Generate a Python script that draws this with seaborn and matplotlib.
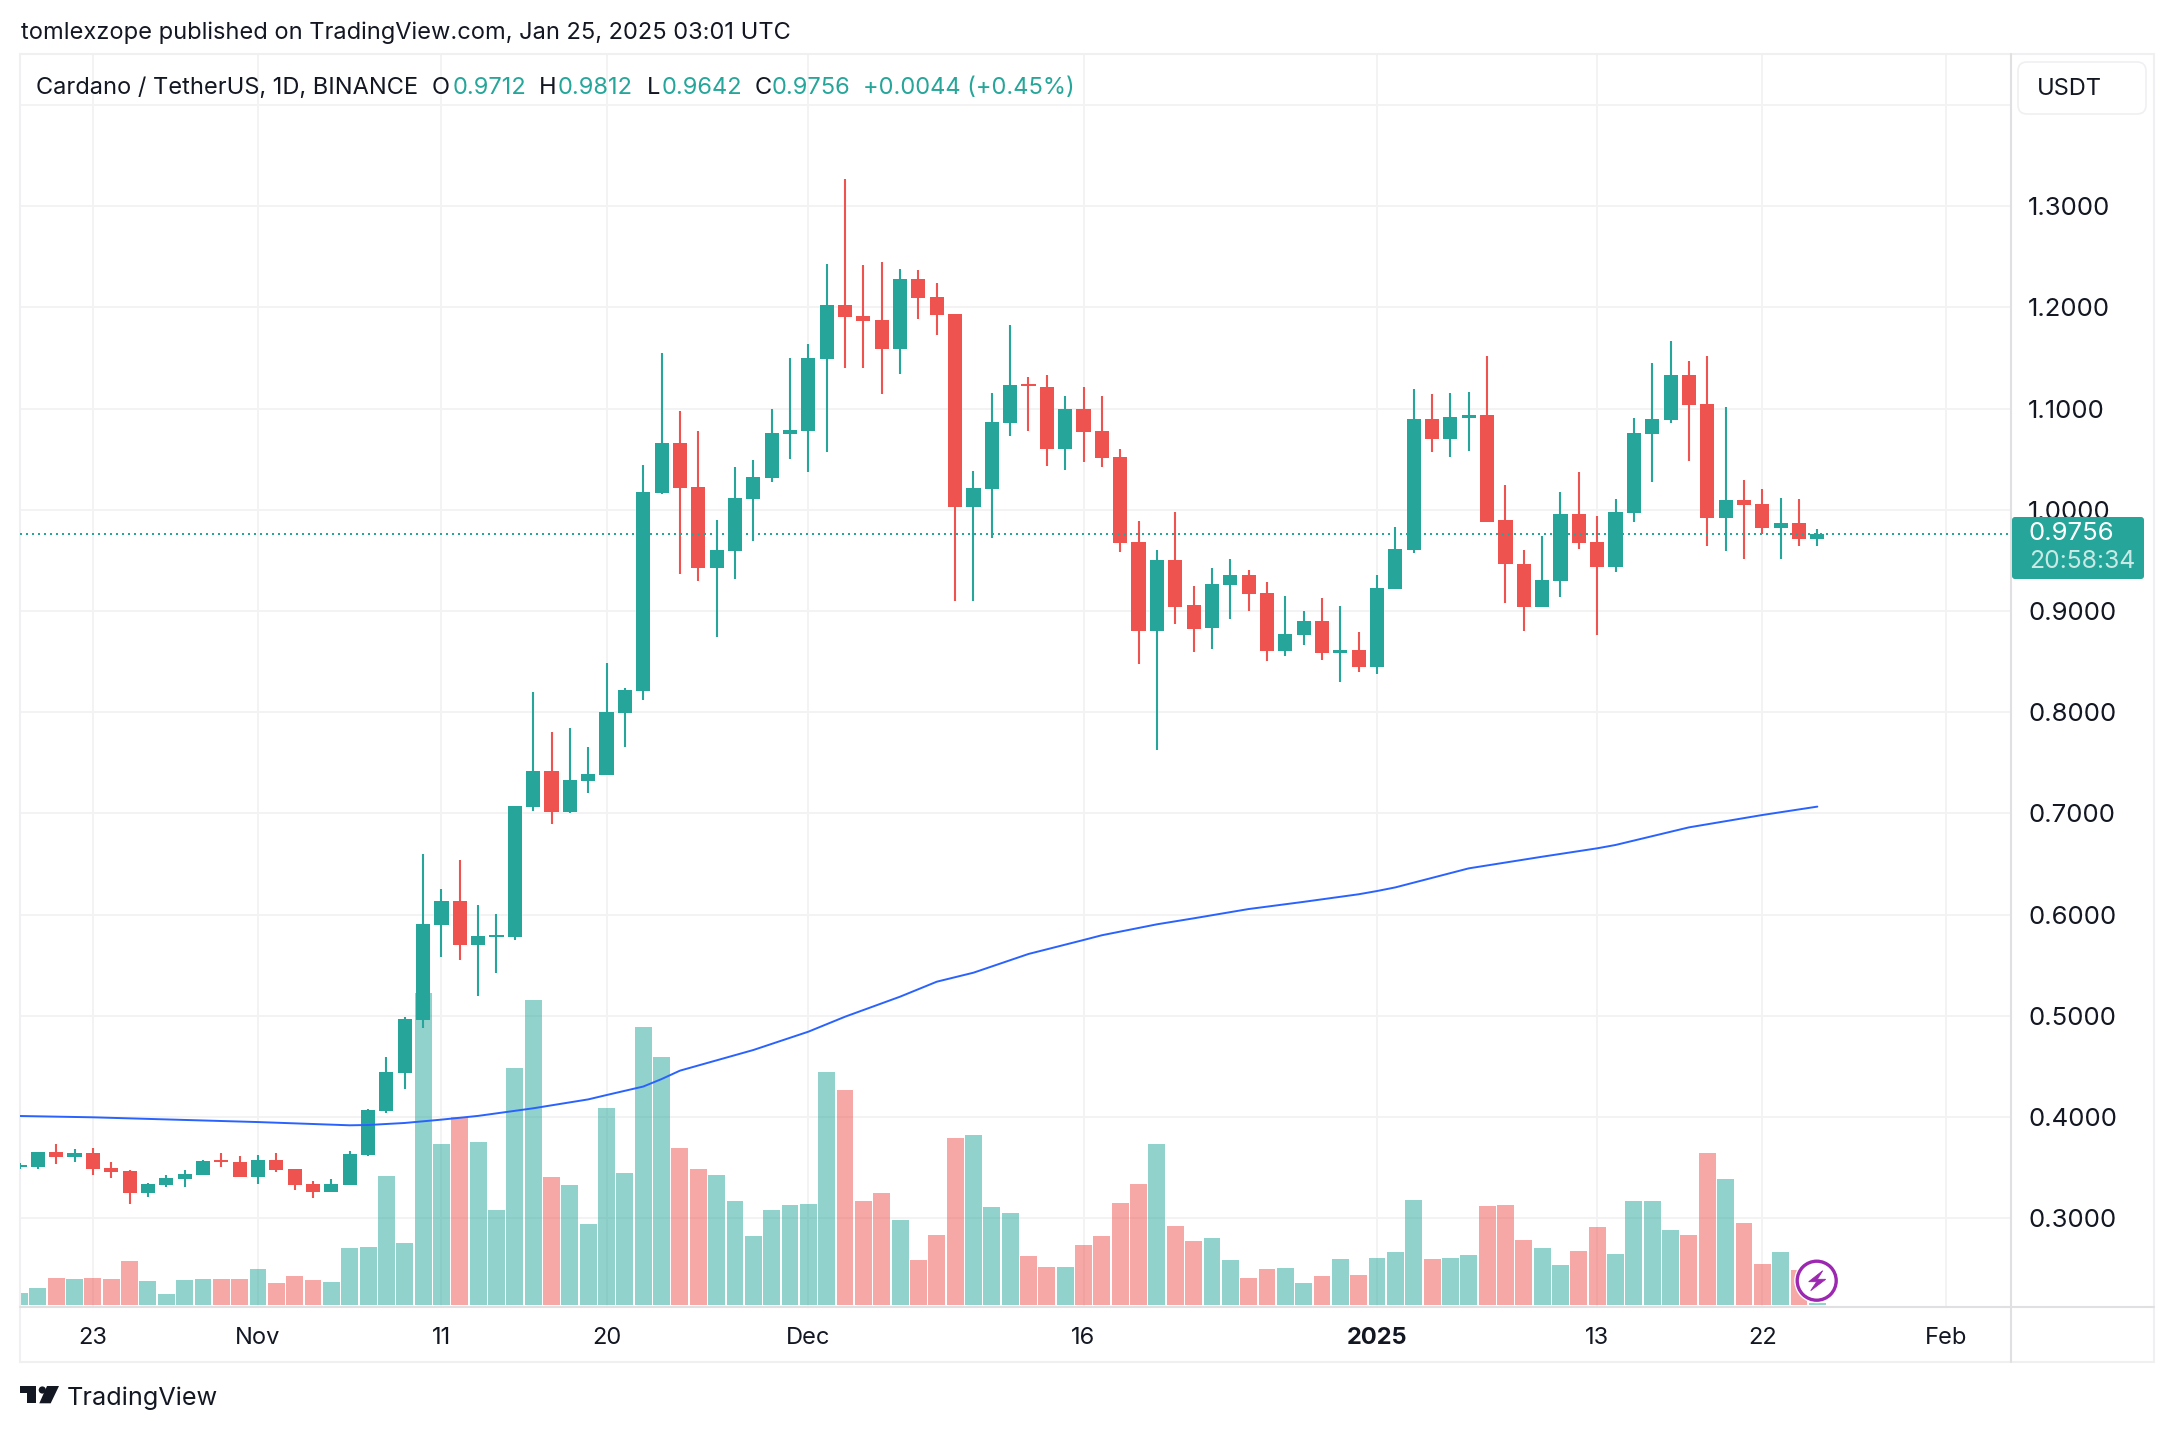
import pandas as pd
import matplotlib
matplotlib.use("Agg")
import matplotlib.pyplot as plt
import matplotlib.dates as mdates
from matplotlib.lines import Line2D
from matplotlib.patches import Circle, FancyBboxPatch, Polygon
from matplotlib.transforms import Affine2D
import seaborn as sns

# ADA/USDT daily candles, 19 Oct 2024 -> 25 Jan 2025
start_date = "2024-10-19"
end_date = "2025-01-25"

opens = [
    .3508, .3508, .3653, .3603, .3643, .3495, .3465, .3247, .3327, .3386, .3425, .3574, .3554,
    .3406, .3574, .3485, .3336, .3257, .3327, .3623, .4058, .4437, .4958, .5897, .6134, .5699, .5778, .5778,
    .7063, .7418, .7013, .7320, .7379, .7991, .8209, 1.0164, 1.0659, 1.0224, .9423, .9591, 1.0105, 1.0313, 1.0747,
    1.0777, 1.1488, 1.2022, 1.1914, 1.1874, 1.1587, 1.2279, 1.2101, 1.1933, 1.0026, 1.0204, 1.0856, 1.1242, 1.1212, 1.0599,
    1.0995, 1.0778, 1.0521, .9681, .8802, .9503, .9058, .8831, .9256, .9355, .9177, .8604, .8762, .8900, .8584, .8614,
    .8446, .9217, .9602, 1.0896, 1.0699, 1.0906, 1.0936, .9898, .9464, .9039, .9296, .9958, .9681, .9434, .9968,
    1.0749, 1.0887, 1.1332, 1.1045, .9918, 1.0096, 1.0057, .9820, .9869, .9712,
]
closes = [
    .3524, .3653, .3603, .3643, .3485, .3455, .3247, .3336, .3396, .3435, .3564, .3554, .3406,
    .3574, .3475, .3327, .3257, .3336, .3633, .4068, .4444, .4967, .5907, .6134, .5699, .5788, .5798,
    .7072, .7418, .7013, .7329, .7389, .8001, .8219, 1.0174, 1.0659, 1.0214, .9423, .9601, 1.0115, 1.0323, 1.0757, 1.0787,
    1.1498, 1.2022, 1.1904, 1.1864, 1.1587, 1.2279, 1.2091, 1.1923, 1.0026, 1.0214, 1.0866, 1.1232, 1.1222, 1.0599,
    1.0995, 1.0767, 1.0511, .9671, .8802, .9503, .9039, .8821, .9266, .9355, .9167, .8604, .8772, .8900, .8584, .8614, .8446,
    .9226, .9612, 1.0896, 1.0699, 1.0916, 1.0936, .9879, .9464, .9039, .9305, .9958, .9671, .9434, .9978,
    1.0758, 1.0897, 1.1332, 1.1035, .9918, 1.0096, 1.0047, .9820, .9869, .9712, .9756,
]
highs = [
    .3540, .3653, .3732, .3682, .3692, .3554, .3475, .3346, .3425, .3475, .3574, .3643, .3613,
    .3623, .3643, .3485, .3366, .3386, .3663, .4075, .4592, .4987, .6598, .6252, .6539, .6094, .6005,
    .7072, .8199, .7804, .7843, .7656, .8486, .8239, 1.0441, 1.1548, 1.0975, 1.0777, .9898, 1.0421, 1.0491, 1.0995, 1.1498,
    1.1637, 1.2427, 1.3267, 1.2417, 1.2447, 1.2378, 1.2368, 1.2240, 1.1933, 1.0382, 1.1153, 1.1825, 1.1311, 1.1331, 1.1123,
    1.1212, 1.1124, 1.0600, .9888, .9602, .9977, .9246, .9424, .9513, .9404, .9286, .9147, .8999, .9128, .9049, .8792,
    .9355, .9829, 1.1193, 1.1143, 1.1153, 1.1163, 1.1519, 1.0244, .9602, .9740, 1.0175, 1.0373, .9938, 1.0106,
    1.0907, 1.1450, 1.1667, 1.1470, 1.1519, 1.1015, 1.0294, 1.0205, 1.0116, 1.0106, .9812,
]
lows = [
    .3490, .3485, .3534, .3554, .3425, .3396, .3139, .3208, .3307, .3307, .3425, .3504, .3406,
    .3336, .3455, .3277, .3198, .3257, .3327, .3613, .4042, .4276, .4879, .5580, .5551, .5195, .5422,
    .5748, .7023, .6895, .7003, .7201, .7379, .7656, .8120, 1.0155, .9364, .9295, .8742, .9315, .9690, 1.0273, 1.0500,
    1.0372, 1.0570, 1.1400, 1.1400, 1.1143, 1.1340, 1.1884, 1.1726, .9097, .9097, .9720, 1.0728, 1.0777, 1.0431, 1.0392,
    1.0471, 1.0422, .9582, .8475, .7626, .8871, .8594, .8624, .8920, .8999, .8505, .8555, .8663, .8515, .8298, .8396,
    .8377, .9217, .9572, 1.0570, 1.0521, 1.0580, .9879, .9078, .8801, .9039, .9138, .9612, .8762, .9385,
    .9879, 1.0274, 1.0857, 1.0482, .9642, .9592, .9513, .9760, .9513, .9642, .9642,
]
# no volume axis in the picture, so these are just relative heights
volumes = [
    35, 50, 80, 77, 80, 77, 131, 71, 32, 74, 77, 77, 77,
    107, 65, 86, 74, 68, 170, 173, 386, 185, 935, 482, 562, 488, 284, 711, 915, 383, 359, 242, 591, 395,
    833, 743, 470, 407, 389, 311, 206, 284, 299,
    302, 699, 645, 311, 335, 254, 134, 209, 500, 509, 293, 275, 146, 113, 113, 179, 206, 305, 362, 482,
    236, 191, 200, 134, 80, 107, 110, 65, 86, 137, 89,
    140, 158, 314, 137, 140, 149, 296, 299, 194, 170, 119, 161, 233, 152, 311, 311, 224, 209, 455, 377, 245, 122, 158, 104, 6,
]

# blue moving average, read at these dates
ma_dates = [
    "2024-10-19", "2024-10-23", "2024-11-01", "2024-11-06", "2024-11-07", "2024-11-09", "2024-11-11",
    "2024-11-13", "2024-11-15", "2024-11-16", "2024-11-19", "2024-11-20", "2024-11-22", "2024-11-23",
    "2024-11-24", "2024-11-28", "2024-12-01", "2024-12-03", "2024-12-06", "2024-12-08", "2024-12-10",
    "2024-12-13", "2024-12-16", "2024-12-17", "2024-12-20", "2024-12-22", "2024-12-25", "2024-12-28",
    "2024-12-31", "2025-01-01", "2025-01-02", "2025-01-06", "2025-01-10", "2025-01-13", "2025-01-14",
    "2025-01-18", "2025-01-22", "2025-01-25",
]
ma_values = [
    .4009, .3996, .3949, .3917, .3920, .3940, .3973,
    .4010, .4060, .4085, .4173, .4216, .4300, .4374,
    .4457, .4661, .4842, .4990, .5188, .5336, .5425,
    .5610, .5748, .5795, .5903, .5962, .6054, .6125,
    .6200, .6232, .6268, .6456, .6571, .6654, .6687,
    .6861, .6983, .7066,
]

tick_prices = [0.3, 0.4, 0.5, 0.6, 0.7, 0.8, 0.9, 1.0, 1.1, 1.2, 1.3, 1.4]
price_labels = ["0.3000", "0.4000", "0.5000", "0.6000", "0.7000", "0.8000", "0.9000", "1.0000", "1.1000", "1.2000", "1.3000", ""]
tick_dates = ["2024-10-23", "2024-11-01", "2024-11-11", "2024-11-20", "2024-12-01",
              "2024-12-16", "2025-01-01", "2025-01-13", "2025-01-22", "2025-02-01"]
date_labels = ["23", "Nov", "11", "20", "Dec", "16", "2025", "13", "22", "Feb"]
last_price = 0.9756

UP = "#26A69A"
DOWN = "#EF5350"
INK = "#131722"
FRAME = "#F0F0F3"
AXIS = "#E0E0E3"
GRID = "#F3F3F3"

sns.set_theme(style="white")
plt.rcParams["font.family"] = ["Inter", "DejaVu Sans"]

W, H = 2174, 1432
fig = plt.figure(figsize=(W / 100, H / 100), dpi=100, facecolor="white")
# y goes down like in the screenshot, for the chrome around the chart
px = Affine2D().scale(1, -1).translate(0, H)

L, R, T, B = 20, 2011, 54, 1307
ax = fig.add_axes([L / W, 1 - B / H, (R - L) / W, (B - T) / H])
vol_ax = ax.twinx()
price_ax = ax.twinx()
ax.set_zorder(0)
vol_ax.set_zorder(1)
price_ax.set_zorder(2)

df = pd.DataFrame({
    "date": pd.date_range(start_date, end_date),
    "open": opens, "high": highs, "low": lows, "close": closes, "volume": volumes,
})
df["x"] = mdates.date2num(df["date"])
df["side"] = ["up" if c >= o else "down" for o, c in zip(df["open"], df["close"])]
df["body"] = (df["close"] - df["open"]).abs()
df["bottom"] = df[["open", "close"]].min(axis=1)
colors = {"up": UP, "down": DOWN}

# volume
sns.barplot(data=df, x="x", y="volume", hue="side", palette=colors, hue_order=["up", "down"],
            native_scale=True, dodge=False, width=0.92, saturation=1, alpha=0.5,
            linewidth=0, errorbar=None, legend=False, ax=vol_ax)

# candles
for side, sub in df.groupby("side"):
    price_ax.vlines(sub["x"], sub["low"], sub["high"], color=colors[side], lw=1.5)
    sns.barplot(data=sub, x="x", y="body", bottom=sub["bottom"].values, color=colors[side],
                native_scale=True, width=0.77, saturation=1, linewidth=0, errorbar=None, ax=price_ax)

sns.lineplot(x=mdates.date2num(pd.to_datetime(ma_dates)), y=ma_values, color="#2962FF", lw=1.4,
             estimator=None, ax=price_ax)
price_ax.axhline(last_price, color=UP, lw=1.44, ls=(0, (1, 2)))

nov1 = mdates.date2num(pd.Timestamp("2024-11-01"))
per_day = 18.345
ax.set_xlim(nov1 + (L - 258) / per_day, nov1 + (R - 258) / per_day)
price_lim = (1 - (B - 509.7) / 1012, 1 - (T - 509.7) / 1012)
ax.set_ylim(price_lim)
price_ax.set_ylim(price_lim)
vol_ax.set_ylim(-6.9, (1304.7 - T) * 3)

for a in (ax, vol_ax, price_ax):
    a.set_xlabel("")
    a.set_ylabel("")
    for s in a.spines.values():
        s.set_visible(False)
vol_ax.set_yticks([])
price_ax.set_yticks([])

ax.set_xticks(mdates.date2num(pd.to_datetime(tick_dates)))
ax.set_xticklabels(date_labels)
ax.yaxis.tick_right()
ax.set_yticks(tick_prices)
ax.set_yticklabels(price_labels)
ax.tick_params(axis="x", length=0, pad=14.3, labelsize=17, labelcolor=INK)
ax.tick_params(axis="y", length=0, pad=12.3, labelsize=18.5, labelcolor=INK)
ax.get_xticklabels()[date_labels.index("2025")].set_fontweight("bold")
ax.grid(True, color=GRID, lw=1.44)
ax.set_axisbelow(True)

# frame around the chart
for xs, ys, col in [
    ((L, 2154), (T, T), FRAME), ((L, 2154), (1362, 1362), FRAME),
    ((L, L), (T, 1362), FRAME), ((2154, 2154), (T, 1362), FRAME),
    ((R, R), (T, 1362), AXIS), ((L, 2154), (B, B), AXIS),
]:
    fig.add_artist(Line2D(xs, ys, color=col, lw=1.5, transform=px))

# currency button
fig.add_artist(FancyBboxPatch((2018, 62), 128, 52, boxstyle="round,pad=0,rounding_size=9",
                              fc="white", ec=FRAME, lw=1.2, transform=px))
fig.text(2037, 89, "USDT", color=INK, fontsize=17, va="center", ha="left", transform=px)

# last price tag
fig.add_artist(FancyBboxPatch((2012, 517), 132, 62, boxstyle="round,pad=0,rounding_size=3",
                              fc=UP, ec="none", transform=px, zorder=5))
fig.text(2029, 534, "0.9756", color="white", fontsize=18.5, va="center", ha="left", transform=px, zorder=6)
fig.text(2029, 562, "20:58:34", color="#C9E9E6", fontsize=17.8, va="center", ha="left", transform=px, zorder=6)

# header texts
fig.text(21, 33, "tomlexzope published on TradingView.com, Jan 25, 2025 03:01 UTC", color=INK,
         fontsize=17, va="center", ha="left", transform=px)
legend_row = [
    (36.5, "Cardano / TetherUS, 1D, BINANCE", INK), (432, "O", INK), (452.5, "0.9712", UP),
    (539, "H", INK), (558, "0.9812", UP), (647, "L", INK), (661.5, "0.9642", UP),
    (755, "C", INK), (771.6, "0.9756", UP), (863, "+0.0044 (+0.45%)", UP),
]
for x0, s, col in legend_row:
    fig.text(x0, 88, s, color=col, fontsize=17, va="center", ha="left", transform=px)

# lightning badge on the last bar
fig.add_artist(Circle((1816.7, 1280.7), 22.5, fc="white", ec="none", transform=px, zorder=7))
fig.add_artist(Circle((1816.7, 1280.7), 19.5, fc="white", ec="#9C27B0", lw=2.4, transform=px, zorder=8))
bolt = [(1822.7, 1270.7), (1808.7, 1281.7), (1816.7, 1281.7), (1810.7, 1290.7), (1825.7, 1279.3), (1817.3, 1279.3)]
fig.add_artist(Polygon(bolt, closed=True, fc="#9C27B0", ec="#9C27B0", lw=0.6, transform=px, zorder=9))

# TradingView logo
logo_t = [(20, 1386), (36, 1386), (36, 1403.3), (27.3, 1403.3), (27.3, 1392.7), (20, 1392.7)]
logo_slash = [(47, 1386), (59, 1386), (50.7, 1403.3), (39.3, 1403.3)]
fig.add_artist(Polygon(logo_t, closed=True, fc=INK, ec="none", transform=px))
fig.add_artist(Polygon(logo_slash, closed=True, fc=INK, ec="none", transform=px))
fig.add_artist(Circle((42.3, 1390), 3.6, fc=INK, ec="none", transform=px))
fig.text(66.5, 1398.5, "TradingView", color=INK, fontsize=18.2, va="center", ha="left", transform=px)

fig.savefig("out.png", dpi=100, facecolor="white")
